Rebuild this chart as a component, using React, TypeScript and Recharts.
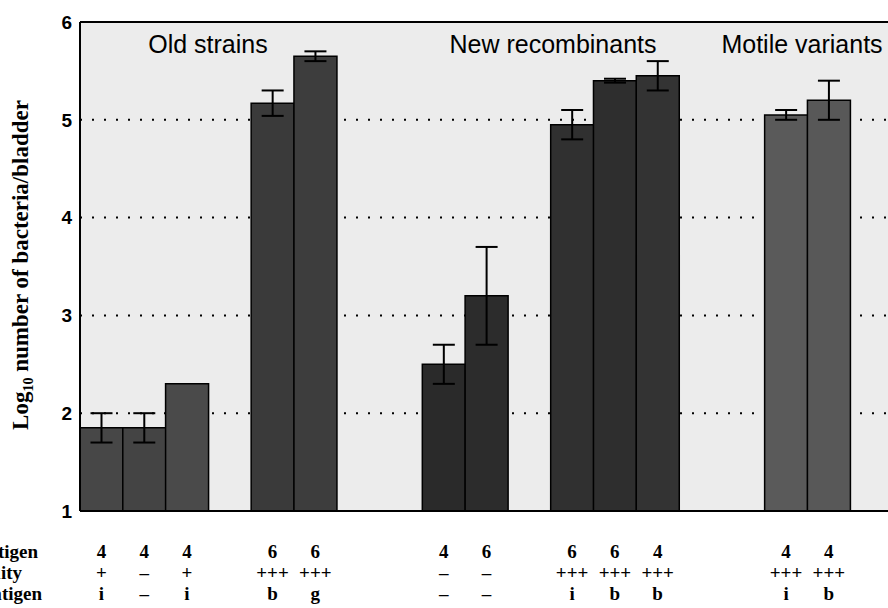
import React from 'react';
import { BarChart, Bar, XAxis, YAxis, CartesianGrid, ErrorBar, Cell, ReferenceLine } from 'recharts';

// one slot per column, empty slots are the gaps between groups
const oAntigen = ['4', '4', '4', '', '6', '6', '', '', '4', '6', '', '6', '6', '4', '', '', '4', '4', ''];
const motility = ['+', '–', '+', '', '+++', '+++', '', '', '–', '–', '', '+++', '+++', '+++', '', '', '+++', '+++', ''];
const hAntigen = ['i', '–', 'i', '', 'b', 'g', '', '', '–', '–', '', 'i', 'b', 'b', '', '', 'i', 'b', ''];
const logCount = [1.85, 1.85, 2.3, null, 5.17, 5.65, null, null, 2.5, 3.2, null, 4.95, 5.4, 5.45, null, null, 5.05, 5.2, null];
const sem = [0.15, 0.15, 0, null, 0.13, 0.05, null, null, 0.2, 0.5, null, 0.15, 0.02, 0.15, null, null, 0.05, 0.2, null];

const rowNames = ['O antigen', 'Motility', 'H antigen'];
const groupTitles = ['Old strains', 'New recombinants', 'Motile variants'];
const yTicks = [1, 2, 3, 4, 5, 6];

const shades = ['#474747', '#444', '#4a4a4a', '', '#3a3a3a', '#3d3d3d', '', '', '#2a2a2a', '#2c2c2c', '', '#303030', '#2e2e2e', '#333', '', '', '#5a5a5a', '#585858', ''];

const data = logCount.map((v, i) => ({ slot: 's' + i, value: v, err: sem[i] }));

const serif = '"Liberation Serif", "Times New Roman", serif';
const sans = '"Liberation Sans", Arial, sans-serif';
const rowY = [558, 579, 600];

function BottomTick(props: any) {
  const { x, index } = props;
  const rows = [oAntigen[index], motility[index], hAntigen[index]];
  return (
    <g>
      {rows.map((t, r) => (
        <text key={r} x={x} y={rowY[r]} textAnchor="middle" fontFamily={serif} fontWeight="bold" fontSize={19} fill="#000">
          {t}
        </text>
      ))}
      {index === 0 && (
        <g>
          <text x={38} y={rowY[0]} textAnchor="end" fontFamily={serif} fontWeight="bold" fontSize={19} fill="#000">{rowNames[0]}</text>
          <text x={22} y={rowY[1]} textAnchor="end" fontFamily={serif} fontWeight="bold" fontSize={19} fill="#000">{rowNames[1]}</text>
          <text x={42} y={rowY[2]} textAnchor="end" fontFamily={serif} fontWeight="bold" fontSize={19} fill="#000">{rowNames[2]}</text>
          <text x={208} y={53} textAnchor="middle" fontFamily={sans} fontSize={25} fill="#000">{groupTitles[0]}</text>
          <text x={553} y={53} textAnchor="middle" fontFamily={sans} fontSize={25} fill="#000">{groupTitles[1]}</text>
          <text x={802} y={53} textAnchor="middle" fontFamily={sans} fontSize={25} fill="#000">{groupTitles[2]}</text>
          <text transform="translate(28,265) rotate(-90)" textAnchor="middle" fontFamily={serif} fontWeight="bold" fontSize={23} fill="#000">
            Log<tspan fontSize={14} dy={5}>10</tspan><tspan dy={-5}> number of bacteria/bladder</tspan>
          </text>
        </g>
      )}
    </g>
  );
}

export default function App() {
  return (
    <div style={{ position: 'absolute', left: 0, top: 0, width: 888, height: 608, overflow: 'hidden', background: '#fff' }}>
      <BarChart
        width={920}
        height={608}
        data={data}
        margin={{ top: 22, right: 27, bottom: 0, left: 0 }}
        barCategoryGap={0}
      >
        <CartesianGrid
          vertical={false}
          horizontalValues={[2, 3, 4, 5]}
          stroke="#000"
          strokeWidth={2}
          strokeDasharray="2 10"
          fill="#ececec"
        />
        <ReferenceLine y={6} stroke="#000" strokeWidth={2} />
        <XAxis
          dataKey="slot"
          interval={0}
          height={97}
          tickLine={false}
          axisLine={{ stroke: '#000', strokeWidth: 2 }}
          tick={<BottomTick />}
        />
        <YAxis
          domain={[1, 6]}
          ticks={yTicks}
          width={80}
          tickLine={false}
          axisLine={{ stroke: '#000', strokeWidth: 2 }}
          tick={{ fill: '#000', fontFamily: sans, fontWeight: 'bold', fontSize: 19 }}
          allowDataOverflow
        />
        <Bar dataKey="value" stroke="#000" strokeWidth={1.5} isAnimationActive={false}>
          {data.map((d, i) => (
            <Cell key={i} fill={shades[i] || '#444'} />
          ))}
          <ErrorBar dataKey="err" width={11} stroke="#000" strokeWidth={2} direction="y" />
        </Bar>
      </BarChart>
    </div>
  );
}
